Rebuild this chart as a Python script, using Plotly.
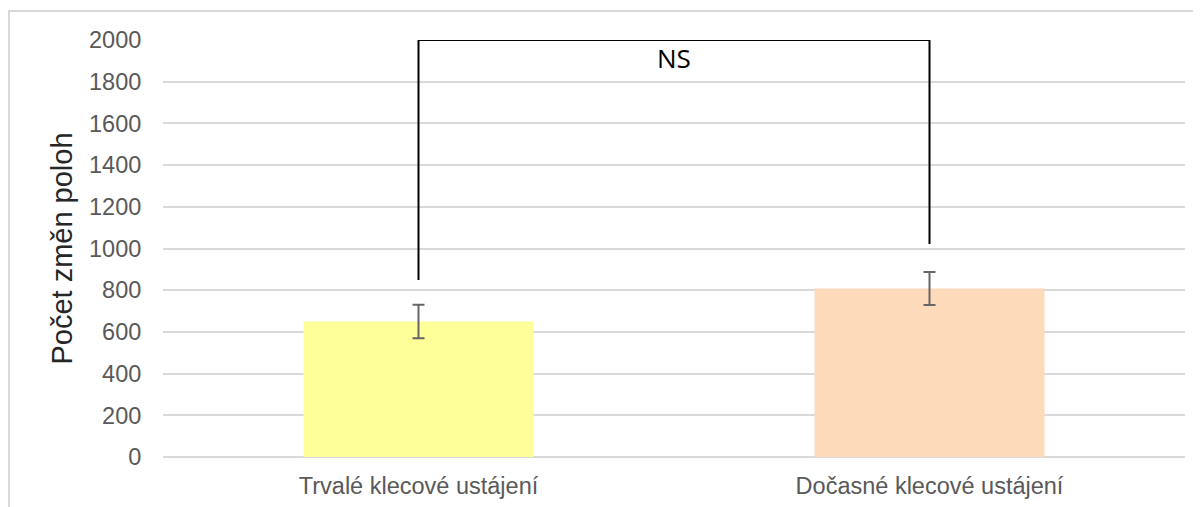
import plotly.graph_objects as go

categories = ["Trvalé klecové ustájení", "Dočasné klecové ustájení"]
values = [650, 808]
errors = [80, 79]
bar_colors = ["#FFFF99", "#FDDAB9"]
bracket_y = [849, 2000, 2000, 1022]
y_ticks = list(range(0, 2001, 200))

fig = go.Figure()
fig.add_trace(go.Bar(
    x=categories, y=values,
    marker=dict(color=bar_colors, line=dict(width=0)),
    width=0.45,
    error_y=dict(type="data", array=errors, visible=True, color="#666666", thickness=2, width=6),
    showlegend=False,
))
fig.add_trace(go.Scatter(
    x=[categories[0], categories[0], categories[1], categories[1]],
    y=bracket_y,
    mode="lines", line=dict(color="black", width=2),
    cliponaxis=False, showlegend=False, hoverinfo="skip",
))
fig.add_annotation(x=0.5, y=1916, xref="x", yref="y", text="NS", showarrow=False,
                   font=dict(family="Open Sans", size=26, color="black"))

# outer border
fig.add_shape(type="rect", xref="paper", yref="paper", x0=-0.1507, x1=1.1, y0=-0.3, y1=1.0695,
              line=dict(color="#D9D9D9", width=2), layer="below")

fig.update_layout(
    width=1201, height=507,
    margin=dict(l=155, r=24, t=32, b=58),
    paper_bgcolor="white", plot_bgcolor="white",
    font=dict(family="Liberation Sans, Arial", color="#595959", size=23.5),
    bargap=0.55,
)
fig.update_xaxes(showgrid=False, showline=False, automargin=False,
                 ticks="outside", ticklen=8, tickcolor="rgba(0,0,0,0)",
                 tickfont=dict(size=23.5, color="#595959"))
fig.update_yaxes(range=[0, 2000], tickvals=y_ticks, showgrid=True, gridcolor="#D9D9D9", gridwidth=1.5,
                 zeroline=True, zerolinecolor="#D9D9D9", zerolinewidth=1.5, showline=False,
                 automargin=False,
                 ticks="outside", ticklen=16, tickcolor="rgba(0,0,0,0)",
                 tickfont=dict(size=23.5, color="#595959"),
                 title=dict(text="Počet změn poloh", font=dict(size=29, color="#262626"), standoff=7))
fig.write_html("out.html")
